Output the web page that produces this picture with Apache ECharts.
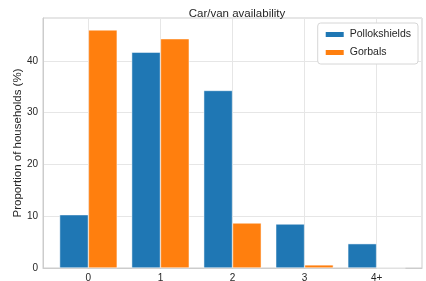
<!DOCTYPE html>
<html>
<head>
<meta charset="utf-8">
<script src="https://cdn.jsdelivr.net/npm/echarts@6/dist/echarts.min.js"></script>
<style>
  html, body { margin: 0; padding: 0; background: #fff; }
  #chart { width: 426px; height: 281px; }
</style>
</head>
<body>
<div id="chart"></div>
<script>
// categories and values
const categories = ['0', '1', '2', '3', '4+']
const pollokshields = [10.3, 41.7, 34.3, 8.5, 4.7]
const gorbals = [46.0, 44.3, 8.7, 0.6, 0.0]
const yTicks = [0, 10, 20, 30, 40]

const font = 'Liberation Sans, Arial, sans-serif'

// bars sit on a value x axis so the grid lines land on the category centres
const toPoints = arr => arr.map((v, i) => [i, v])

const chart = echarts.init(document.getElementById('chart'))
chart.setOption({
  animation: false,
  title: {
    text: 'Car/van availability',
    left: 232, top: 3, textAlign: 'center',
    textStyle: { fontFamily: font, fontSize: 11.5, fontWeight: 'normal', color: '#262626' }
  },
  legend: {
    orient: 'vertical',
    right: 8, top: 23,
    icon: 'rect',
    itemWidth: 20, itemHeight: 7, itemGap: 7,
    padding: [6, 7, 6, 6],
    borderColor: '#d6d6d6', borderWidth: 1, borderRadius: 3,
    backgroundColor: '#fff',
    textStyle: { fontFamily: font, fontSize: 10.5, color: '#262626' },
    data: ['Pollokshields', 'Gorbals']
  },
  grid: {
    left: 43, right: 4, top: 18, bottom: 13,
    outerBoundsMode: 'none', containLabel: false,
    show: true, borderColor: '#cccccc', borderWidth: 1
  },
  xAxis: {
    type: 'value',
    min: -0.63, max: categories.length - 1 + 0.63,
    splitNumber: 5,
    axisLine: { show: true, onZero: false, lineStyle: { color: '#cccccc' } },
    axisTick: { show: false },
    splitLine: { show: true, lineStyle: { color: '#e6e6e6' } },
    axisLabel: {
      showMinLabel: false, showMaxLabel: false,
      margin: 5,
      fontFamily: font, fontSize: 10, color: '#262626',
      formatter: v => (Number.isInteger(v) && categories[v] !== undefined) ? categories[v] : ''
    }
  },
  yAxis: {
    type: 'value',
    min: 0, max: 48.3, interval: 10,
    name: 'Proportion of households (%)',
    nameLocation: 'middle', nameGap: 19, nameMoveOverlap: false,
    nameTextStyle: { fontFamily: font, fontSize: 11.5, color: '#262626' },
    axisLine: { show: true, onZero: false, lineStyle: { color: '#cccccc' } },
    axisTick: { show: false },
    splitLine: { show: true, lineStyle: { color: '#e6e6e6' } },
    axisLabel: {
      margin: 5, fontFamily: font, fontSize: 10, color: '#262626',
      formatter: v => yTicks.includes(v) ? String(v) : ''
    }
  },
  series: [
    {
      name: 'Pollokshields', type: 'bar',
      data: toPoints(pollokshields),
      barWidth: 28.8, barGap: '0%',
      itemStyle: { color: '#1f77b4', borderColor: '#ffffff', borderWidth: 0.5 }
    },
    {
      name: 'Gorbals', type: 'bar',
      data: toPoints(gorbals),
      barWidth: 28.8, barGap: '0%',
      itemStyle: { color: '#ff7f0e', borderColor: '#ffffff', borderWidth: 0.5 }
    }
  ]
})
</script>
</body>
</html>
